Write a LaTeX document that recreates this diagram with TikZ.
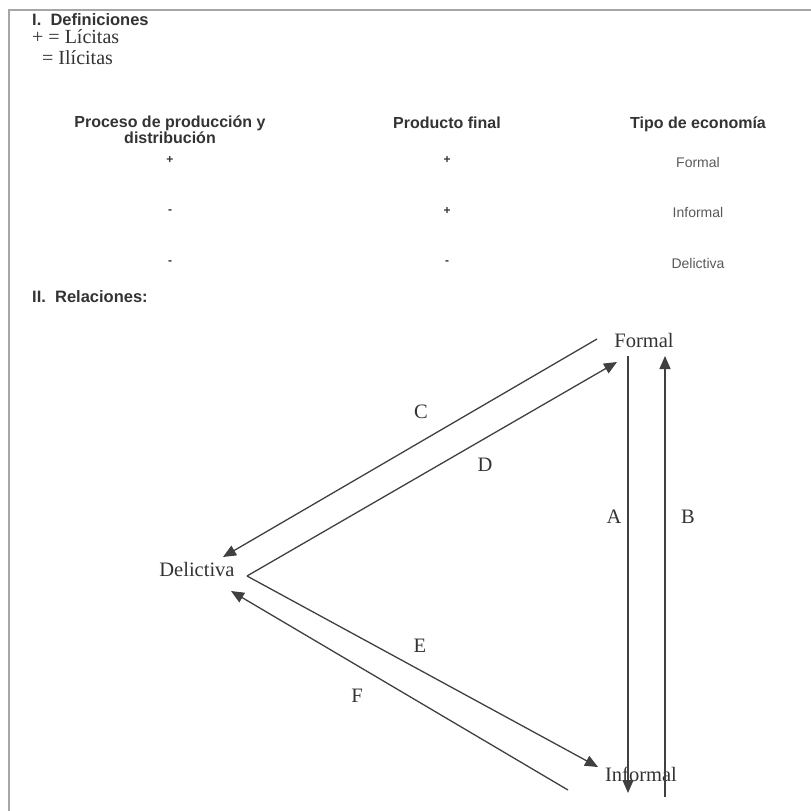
\documentclass[tikz,border=0pt]{standalone}
\usepackage{fontspec}
\setmainfont{Liberation Serif}
\setsansfont{Liberation Sans}
\usetikzlibrary{arrows.meta}

\begin{document}
\begin{tikzpicture}[x=1pt,y=-1pt,>={Triangle[length=13pt,width=11pt]},
  every node/.style={inner sep=0pt},
  titulo/.style={font=\sffamily\bfseries\fontsize{16.5}{18}\selectfont,text=black!80},
  cabecera/.style={font=\sffamily\bfseries\fontsize{16}{16}\selectfont,text=black!80,align=center},
  valor/.style={font=\sffamily\fontsize{14}{16}\selectfont,text=black!65},
  signo/.style={font=\sffamily\bfseries\fontsize{12}{14}\selectfont,text=black!80},
  leyenda/.style={font=\fontsize{20}{22}\selectfont,text=black!80},
  estado/.style={font=\fontsize{20.5}{22}\selectfont,text=black!80},
  flecha/.style={->,draw=black!75,line width=1.3pt}]

  \useasboundingbox (0,0) rectangle (811,811);

  % marco
  \draw[black!35,line width=2pt] (9,811) -- (9,10) -- (811,10);

  % I. Definiciones
  \node[titulo,anchor=west]  (def)    at (32,20)  {I.\ \ Definiciones};
  \node[leyenda,anchor=west] (licita) at (32,37)  {+ = Lícitas};
  \node[leyenda,anchor=west] (ilicita) at (42,58) {= Ilícitas};

  \node[cabecera] (proceso)  at (170,130) {Proceso de producción y\\distribución};
  \node[cabecera,anchor=base] (producto) at (447,128) {Producto final};
  \node[cabecera,anchor=base] (tipo)     at (698,128) {Tipo de economía};

  \node[signo] (p1) at (170,160) {+};
  \node[signo] (f1) at (447,160) {+};
  \node[valor,anchor=base] (t1) at (698,167) {Formal};
  \node[signo] (p2) at (170,212) {-};
  \node[signo] (f2) at (447,211) {+};
  \node[valor,anchor=base] (t2) at (698,217) {Informal};
  \node[signo] (p3) at (170,263) {-};
  \node[signo] (f3) at (447,263) {-};
  \node[valor,anchor=base] (t3) at (698,268) {Delictiva};

  % II. Relaciones
  \node[titulo,anchor=west] (relac) at (32,297) {II.\ \ Relaciones:};

  \node[estado] (formal)    at (644,340) {Formal};
  \node[estado] (delictiva) at (197,569) {Delictiva};
  \node[estado] (informal)  at (641,774) {Informal};

  \coordinate (aIni) at (628,356);  \coordinate (aFin) at (628,793);
  \coordinate (bIni) at (665,797);  \coordinate (bFin) at (665,356);
  \coordinate (cIni) at (597,339);  \coordinate (cFin) at (223,557);
  \coordinate (vert) at (247,576);
  \coordinate (dFin) at (617,362);
  \coordinate (eFin) at (598,767);
  \coordinate (fIni) at (568,790);  \coordinate (fFin) at (231,591);

  \draw[flecha] (aIni) -- (aFin);
  \draw[flecha] (bIni) -- (bFin);
  \draw[flecha] (cIni) -- (cFin);
  \draw[flecha] (vert) -- (dFin);
  \draw[flecha] (vert) -- (eFin);
  \draw[flecha] (fIni) -- (fFin);

  \node[estado] (la) at (614,517) {A};
  \node[estado] (lb) at (688,517) {B};
  \node[estado] (lc) at (421,412) {C};
  \node[estado] (ld) at (485,465) {D};
  \node[estado] (le) at (420,646) {E};
  \node[estado] (lf) at (357,696) {F};
\end{tikzpicture}
\end{document}
